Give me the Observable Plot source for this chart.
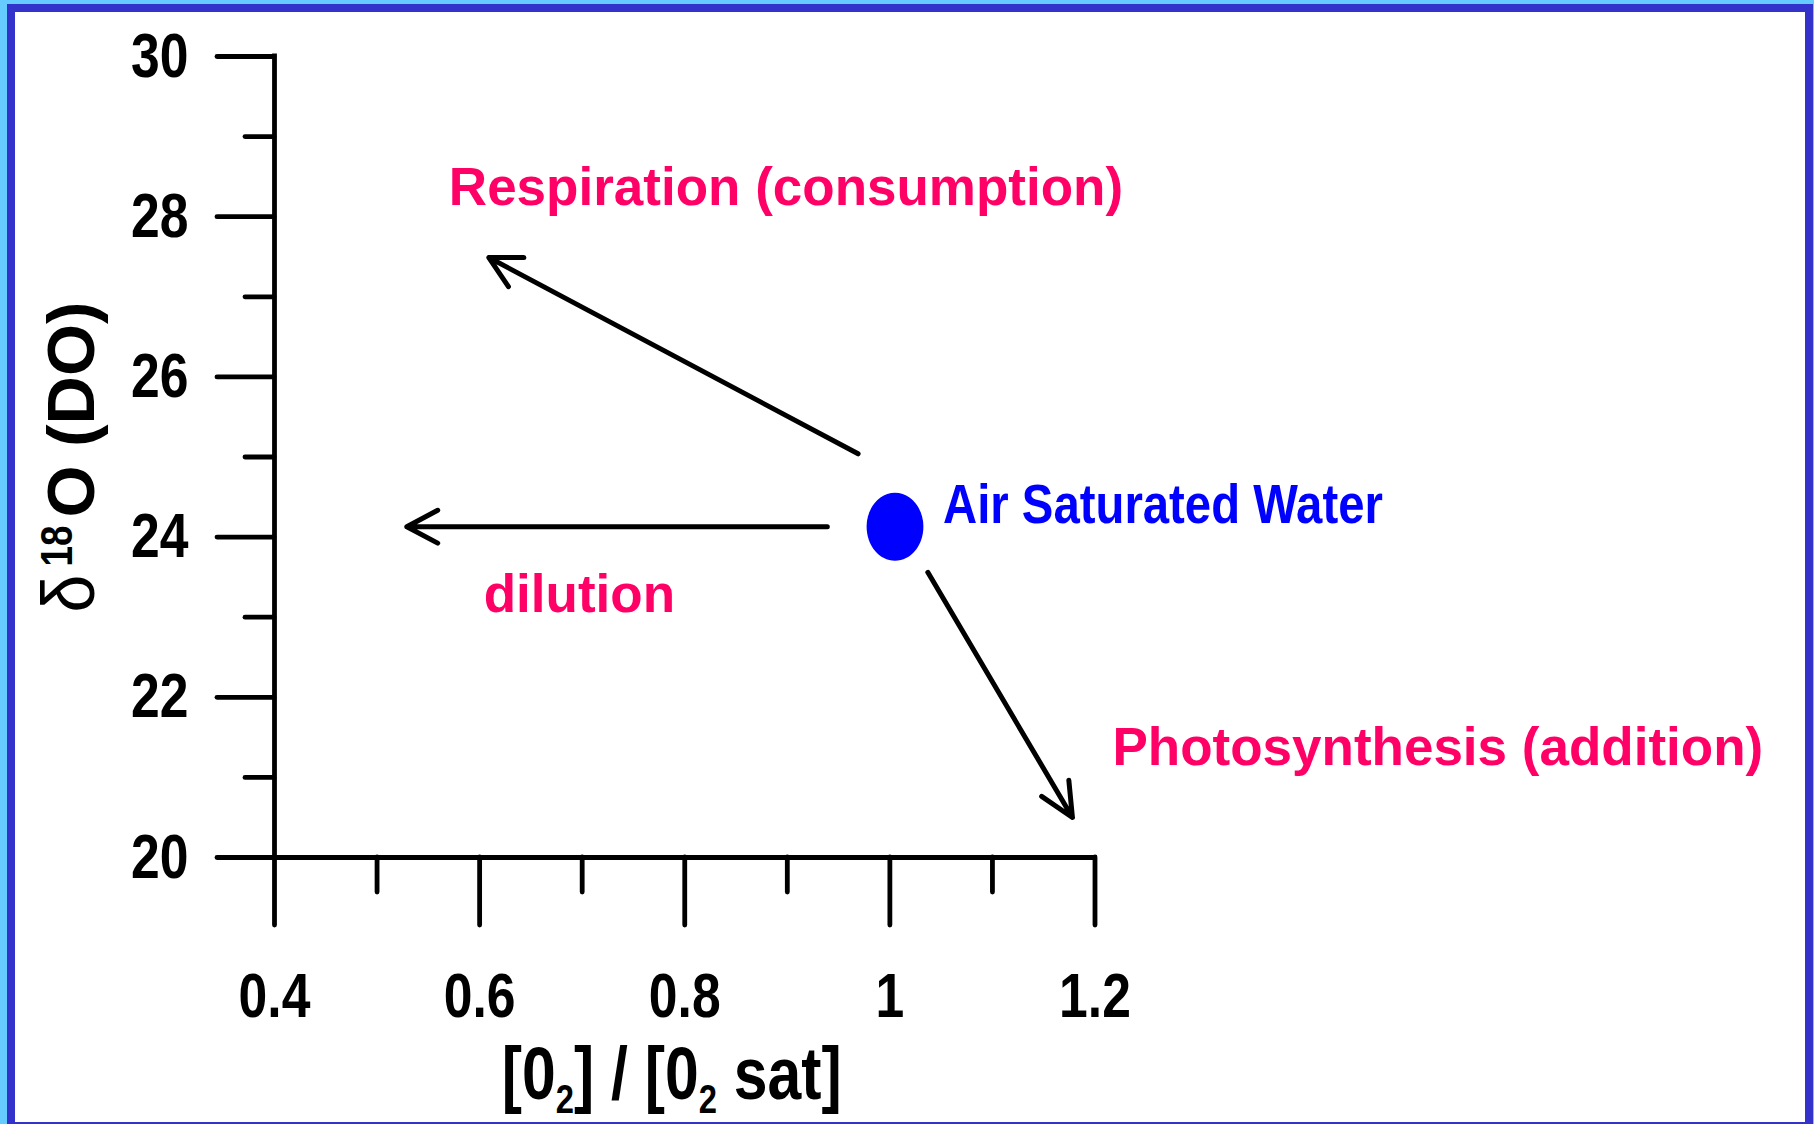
<!DOCTYPE html>
<html>
<head>
<meta charset="utf-8">
<script src="https://cdn.jsdelivr.net/npm/d3@7"></script>
<script src="https://cdn.jsdelivr.net/npm/@observablehq/plot@0.6"></script>
<style>
  html, body { margin: 0; padding: 0; background: #66ccff; overflow: hidden; }
  #dark { position: absolute; left: 7px; top: 4px; width: 1806px; height: 1120px; background: #3333cc; }
  #white { position: absolute; left: 15px; top: 12px; width: 1790px; height: 1110px; background: #ffffff; }
  #chart { position: absolute; left: 0; top: 0; }
</style>
</head>
<body>
<div id="dark"></div>
<div id="white"></div>
<div id="chart"></div>
<script>
// ---- data ----
const xMajorTicks = [0.4, 0.6, 0.8, 1.0, 1.2];
const xTickLabels = ["0.4", "0.6", "0.8", "1", "1.2"];
const xMinorTicks = [0.5, 0.7, 0.9, 1.1];
const yMajorTicks = [20, 22, 24, 26, 28, 30];
const yTickLabels = ["20", "22", "24", "26", "28", "30"];
const yMinorTicks = [21, 23, 25, 27, 29];

const xTitle = "[02] / [02 sat]";
const yTitle = "δ18O (DO)";

// Air saturated water reference point
const pointName = ["Air Saturated Water"];
const pointX = [1.005];
const pointY = [24.13];

// process arrows (start -> end) and their labels
const processNames = ["Respiration (consumption)", "dilution", "Photosynthesis (addition)"];
const arrowX1 = [0.969, 0.939, 1.037];
const arrowY1 = [25.04, 24.13, 23.56];
const arrowX2 = [0.609, 0.529, 1.178];
const arrowY2 = [27.49, 24.13, 20.50];
const labelX = [0.570, 0.604, 1.217];
const labelY = [28.14, 23.06, 21.15];

// ---- build tables ----
const arrows = processNames.map((name, i) => ({name, x1: arrowX1[i], y1: arrowY1[i], x2: arrowX2[i], y2: arrowY2[i]}));
const labels = processNames.map((name, i) => ({name, x: labelX[i], y: labelY[i]}));
const points = pointName.map((name, i) => ({name, x: pointX[i], y: pointY[i]}));

const X0 = xMajorTicks[0], X1 = xMajorTicks[xMajorTicks.length - 1];
const Y0 = yMajorTicks[0], Y1 = yMajorTicks[yMajorTicks.length - 1];

const NARROW = "'Liberation Sans Narrow', 'Arial Narrow', 'Liberation Sans', Arial, sans-serif";
const SANS = "'Liberation Sans', Arial, Helvetica, sans-serif";
const PINK = "#ff0066";
const BLUE = "#0000ff";
const SW = 4.8;
const ASW = 5;

// ellipse symbol (taller than wide)
const ellipseSymbol = {
  draw(ctx, size) {
    const r = Math.sqrt(size / Math.PI);
    const rx = r * 0.835, ry = r;
    const k = 0.5523;
    ctx.moveTo(rx, 0);
    ctx.bezierCurveTo(rx, k * ry, k * rx, ry, 0, ry);
    ctx.bezierCurveTo(-k * rx, ry, -rx, k * ry, -rx, 0);
    ctx.bezierCurveTo(-rx, -k * ry, -k * rx, -ry, 0, -ry);
    ctx.bezierCurveTo(k * rx, -ry, rx, -k * ry, rx, 0);
    ctx.closePath();
  }
};

const lineStyle = {stroke: "black", strokeWidth: SW, strokeLinecap: "round"};

const chart = Plot.plot({
  width: 1814,
  height: 1124,
  marginLeft: 274,
  marginRight: 719.5,
  marginTop: 56,
  marginBottom: 267,
  style: {background: "transparent", overflow: "visible"},
  x: {domain: [X0, X1], axis: null},
  y: {domain: [Y0, Y1], axis: null},
  marks: [
    // frame lines
    Plot.ruleX([X0], {y1: () => Y0, y2: () => Y1, stroke: "black", strokeWidth: SW, strokeLinecap: "square"}),
    Plot.ruleY([Y0], {x1: () => X0, x2: () => X1, stroke: "black", strokeWidth: SW, strokeLinecap: "square"}),
    // y ticks (pointing left of the axis)
    Plot.ruleY(yMajorTicks, {y: d => d, x1: () => X0, x2: () => X0, insetLeft: -57, insetRight: 0, ...lineStyle}),
    Plot.ruleY(yMinorTicks, {y: d => d, x1: () => X0, x2: () => X0, insetLeft: -29, insetRight: 0, ...lineStyle}),
    Plot.text(yMajorTicks, {x: () => X0, y: d => d, text: (d, i) => yTickLabels[i], textAnchor: "end", dx: -86,
      fontFamily: NARROW, fontSize: 63, fontWeight: "bold", fill: "black"}),
    // x ticks (pointing below the axis)
    Plot.ruleX(xMajorTicks, {x: d => d, y1: () => Y0, y2: () => Y0, insetTop: 0, insetBottom: -68, ...lineStyle}),
    Plot.ruleX(xMinorTicks, {x: d => d, y1: () => Y0, y2: () => Y0, insetTop: 0, insetBottom: -35, ...lineStyle}),
    Plot.text(xMajorTicks, {x: d => d, y: () => Y0, text: (d, i) => xTickLabels[i], lineAnchor: "top", dy: 115,
      fontFamily: NARROW, fontSize: 63, fontWeight: "bold", fill: "black"}),
    // axis titles
    Plot.text([xTitle], {text: d => d, frameAnchor: "bottom", lineAnchor: "bottom", dx: -13, dy: 241,
      fontFamily: NARROW, fontSize: 74, fontWeight: "bold", fill: "black"}),
    Plot.text([yTitle], {text: d => d, frameAnchor: "left", rotate: -90, lineAnchor: "bottom", textAnchor: "middle", dx: -181, dy: 0,
      fontFamily: SANS, fontSize: 67, fontWeight: "bold", fill: "black"}),
    // arrows
    Plot.arrow(arrows.slice(0, 2), {x1: "x1", y1: "y1", x2: "x2", y2: "y2", headAngle: 56, headLength: 10.5,
      stroke: "black", strokeWidth: ASW, strokeLinecap: "round", strokeLinejoin: "round"}),
    Plot.arrow(arrows.slice(2), {x1: "x1", y1: "y1", x2: "x2", y2: "y2", headAngle: 50, headLength: 11.2,
      stroke: "black", strokeWidth: ASW, strokeLinecap: "round", strokeLinejoin: "round"}),
    // labels
    Plot.text(labels, {x: "x", y: "y", text: "name", textAnchor: "start", lineAnchor: "bottom",
      fontFamily: SANS, fontSize: 53, fontWeight: "bold", fill: PINK}),
    // air saturated water
    Plot.dot(points, {x: "x", y: "y", r: 34, symbol: ellipseSymbol, fill: BLUE, stroke: "none"}),
    Plot.text(points, {x: "x", y: "y", text: "name", textAnchor: "start", lineAnchor: "bottom", dx: 48, dy: -4,
      fontFamily: NARROW, fontSize: 56, fontWeight: "bold", fill: BLUE})
  ]
});

// rich text for axis titles (sub/superscripts)
const svg = d3.select(chart);
svg.selectAll("text").filter(function() { return this.textContent === xTitle; }).each(function() {
  const t = d3.select(this);
  t.text(null);
  t.append("tspan").text("[0");
  t.append("tspan").attr("font-size", 40).attr("dy", 14).text("2");
  t.append("tspan").attr("dy", -14).text("] / [0");
  t.append("tspan").attr("font-size", 40).attr("dy", 14).text("2");
  t.append("tspan").attr("dy", -14).text(" sat]");
});
svg.selectAll("text").filter(function() { return this.textContent === yTitle; }).each(function() {
  const t = d3.select(this);
  t.text(null);
  t.append("tspan").attr("font-weight", "normal").attr("font-size", 74)
    .attr("textLength", 38).attr("lengthAdjust", "spacingAndGlyphs").text("δ");
  t.append("tspan").attr("font-size", 45).attr("dy", -22).attr("dx", 8)
    .attr("textLength", 41).attr("lengthAdjust", "spacingAndGlyphs").text("18");
  t.append("tspan").attr("dy", 22).attr("dx", 8).text("O (DO)");
});

// condensed (narrow) face: squeeze horizontally about each text's anchor
function condense(node, s) {
  const tr = node.getAttribute("transform");
  if (tr) {
    node.setAttribute("transform", tr + ` scale(${s},1)`);
  } else {
    const x = +node.getAttribute("x") || 0, y = +node.getAttribute("y") || 0;
    node.setAttribute("transform", `translate(${x},${y}) scale(${s},1) translate(${-x},${-y})`);
  }
}
const narrowTexts = new Map([
  ...xTickLabels.map(t => [t, 0.82]),
  ...yTickLabels.map(t => [t, 0.82]),
  [xTitle, 0.82],
  ...pointName.map(t => [t, 0.845])
]);
svg.selectAll("text").each(function() {
  const s = narrowTexts.get(this.textContent);
  if (s) condense(this, s);
});

document.getElementById("chart").append(chart);
</script>
</body>
</html>
